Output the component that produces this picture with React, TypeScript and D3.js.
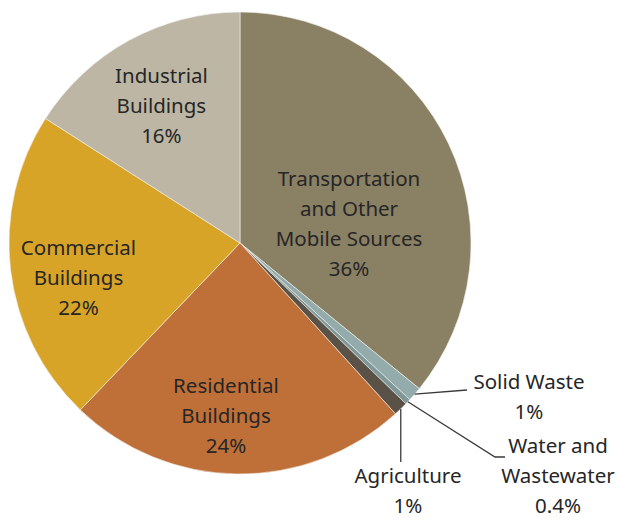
import { useEffect, useRef } from "react";
import * as d3 from "d3";

// slice order is clockwise from 12 o'clock
const categories = [
  "Transportation and Other Mobile Sources",
  "Solid Waste",
  "Water and Wastewater",
  "Agriculture",
  "Residential Buildings",
  "Commercial Buildings",
  "Industrial Buildings",
];
const values = [36, 1, 0.4, 1, 24, 22, 16];
const valueLabels = ["36%", "1%", "0.4%", "1%", "24%", "22%", "16%"];
const labelLines = [
  ["Transportation", "and Other", "Mobile Sources"],
  ["Solid Waste"],
  ["Water and", "Wastewater"],
  ["Agriculture"],
  ["Residential", "Buildings"],
  ["Commercial", "Buildings"],
  ["Industrial", "Buildings"],
];
const colors = ["#8a8064", "#93abab", "#7f9899", "#5b5247", "#bf6f38", "#d8a427", "#bdb6a5"];

const W = 619;
const H = 520;
const cx = 240;
const cy = 243;
const R = 231;
const lineH = 30;
const fontSize = 20.5;

export default function App() {
  const svgRef = useRef<SVGSVGElement | null>(null);

  useEffect(() => {
    if (!svgRef.current) return;
    const svg = d3.select(svgRef.current);
    svg.selectAll("*").remove();

    const data = categories.map((c, i) => ({ name: c, value: values[i], i }));
    const pie = d3.pie<any>().sort(null).value((d) => d.value);
    const arcs = pie(data);

    const arc = d3.arc<any>().innerRadius(0).outerRadius(R);
    const labelArc = d3.arc<any>().innerRadius(R * 0.7).outerRadius(R * 0.7);
    const edgeArc = d3.arc<any>().innerRadius(R).outerRadius(R);

    const g = svg.append("g").attr("transform", `translate(${cx},${cy})`);

    g.selectAll("path.slice")
      .data(arcs)
      .enter()
      .append("path")
      .attr("class", "slice")
      .attr("d", arc)
      .attr("fill", (d) => colors[d.data.i])
      .attr("stroke", "#f4f2ec")
      .attr("stroke-width", 0.6);

    // inside labels: centroid plus a small nudge
    const nudge: Record<number, [number, number]> = {
      0: [-37, 51],
      4: [-12, 11],
      5: [-1, 16],
      6: [-1, 5],
    };

    const font = "Noto Sans, Open Sans, sans-serif";

    const drawBlock = (x: number, yTop: number, lines: string[]) => {
      const t = svg
        .append("text")
        .attr("text-anchor", "middle")
        .style("font-family", font)
        .style("font-size", `${fontSize}px`)
        .attr("fill", "#262626");
      lines.forEach((ln, k) => {
        t.append("tspan")
          .attr("x", x)
          .attr("y", yTop + k * lineH)
          .text(ln);
      });
    };

    arcs.forEach((d) => {
      const i = d.data.i;
      const lines = [...labelLines[i], valueLabels[i]];
      if (nudge[i]) {
        const [x0, y0] = labelArc.centroid(d);
        const x = cx + x0 + nudge[i][0];
        const y = cy + y0 + nudge[i][1];
        const top = y - ((lines.length - 1) * lineH) / 2 + 7;
        drawBlock(x, top, lines);
      }
    });

    // outside labels with leader lines
    const leader = d3.line();
    const outside: Record<number, { pts: (e: [number, number]) => [number, number][]; tx: number; ty: number }> = {
      1: { pts: (e) => [e, [467, 390]], tx: 529, ty: 389 },
      2: { pts: (e) => [e, [495, 457], [505, 457]], tx: 558, ty: 453 },
      3: { pts: (e) => [e, [e[0], 462]], tx: 408, ty: 483 },
    };

    arcs.forEach((d) => {
      const i = d.data.i;
      const o = outside[i];
      if (!o) return;
      const [ex, ey] = edgeArc.centroid(d);
      const e: [number, number] = [cx + ex, cy + ey];
      svg
        .append("path")
        .attr("d", leader(o.pts(e)))
        .attr("fill", "none")
        .attr("stroke", "#3a3a3a")
        .attr("stroke-width", 1.3);
      drawBlock(o.tx, o.ty, [...labelLines[i], valueLabels[i]]);
    });
  }, []);

  return (
    <div style={{ position: "absolute", left: 0, top: 0, width: W, height: H, background: "#fff" }}>
      <svg ref={svgRef} width={W} height={H} />
    </div>
  );
}
